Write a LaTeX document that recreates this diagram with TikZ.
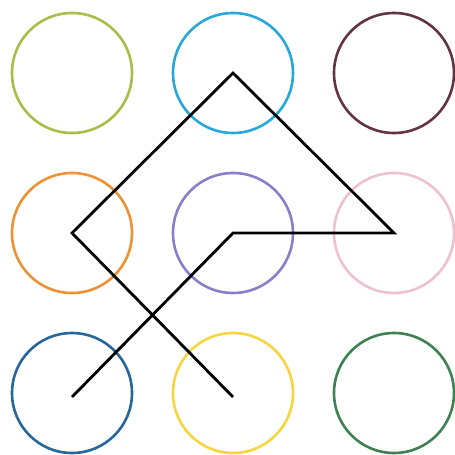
\documentclass[tikz,border=0pt]{standalone}
\usetikzlibrary{positioning}
\definecolor{ringlime}{RGB}{168,190,72}
\definecolor{ringcyan}{RGB}{40,168,218}
\definecolor{ringplum}{RGB}{98,52,70}
\definecolor{ringorange}{RGB}{236,146,52}
\definecolor{ringviolet}{RGB}{140,124,204}
\definecolor{ringpink}{RGB}{238,192,212}
\definecolor{ringblue}{RGB}{38,102,152}
\definecolor{ringyellow}{RGB}{246,214,62}
\definecolor{ringgreen}{RGB}{62,130,82}

\begin{document}
\begin{tikzpicture}[x=1pt, y=1pt, node distance=40pt and 41pt,
  ring/.style={circle, draw=#1, line width=2.6pt, minimum size=120pt, inner sep=0pt, outer sep=0pt}]
  \useasboundingbox (0,0) rectangle (455,-455);
  \node[ring=ringlime]   (a1) at (72,-73) {};
  \node[ring=ringcyan]   (a2) [right=of a1] {};
  \node[ring=ringplum]   (a3) [right=of a2] {};
  \node[ring=ringorange] (b1) [below=of a1] {};
  \node[ring=ringviolet] (b2) [right=of b1] {};
  \node[ring=ringpink]   (b3) [right=of b2] {};
  \node[ring=ringblue]   (c1) [below=of b1] {};
  \node[ring=ringyellow] (c2) [right=of c1] {};
  \node[ring=ringgreen]  (c3) [right=of c2] {};
  % the pattern line
  \coordinate (start) at ([yshift=-4pt]c1.center);
  \coordinate (stop)  at ([yshift=-4pt]c2.center);
  \draw[line width=2.8pt, line join=miter] (start) -- (b2.center) -- (b3.center)
    -- (a2.center) -- (b1.center) -- (stop);
\end{tikzpicture}
\end{document}
